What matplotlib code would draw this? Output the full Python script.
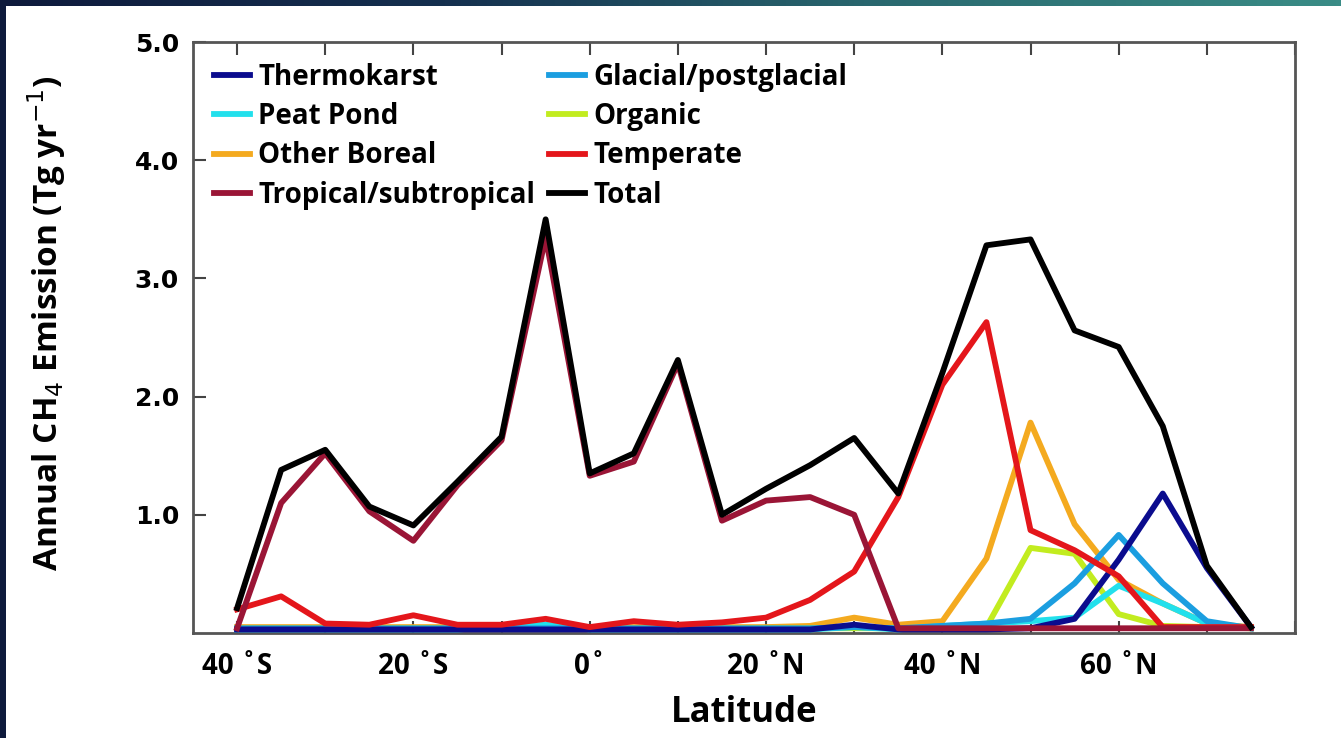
import numpy as np
import matplotlib
matplotlib.use("Agg")
import matplotlib.pyplot as plt
from matplotlib.ticker import MultipleLocator, FixedLocator
from matplotlib.colors import LinearSegmentedColormap

# latitude bins, 5 degree steps from 40S to 75N
lat = [-40, -35, -30, -25, -20, -15, -10, -5, 0, 5, 10, 15, 20, 25,
       30, 35, 40, 45, 50, 55, 60, 65, 70, 75]

total = [0.21, 1.38, 1.55, 1.07, 0.91, 1.28, 1.66, 3.50, 1.35, 1.52, 2.31, 1.00,
         1.22, 1.42, 1.65, 1.18, 2.20, 3.28, 3.33, 2.56, 2.42, 1.75, 0.57, 0.05]
tropical = [0.04, 1.10, 1.52, 1.03, 0.78, 1.25, 1.63, 3.35, 1.33, 1.45, 2.28, 0.95,
            1.12, 1.15, 1.00, 0.04, 0.04, 0.04, 0.04, 0.04, 0.04, 0.04, 0.04, 0.04]
temperate = [0.20, 0.31, 0.08, 0.07, 0.15, 0.07, 0.07, 0.12, 0.05, 0.10, 0.07, 0.09,
             0.13, 0.28, 0.52, 1.15, 2.10, 2.63, 0.87, 0.70, 0.48, 0.05, 0.05, 0.05]
other_boreal = [0.05, 0.05, 0.05, 0.05, 0.05, 0.05, 0.05, 0.05, 0.05, 0.05, 0.05, 0.05,
                0.05, 0.06, 0.13, 0.07, 0.10, 0.63, 1.78, 0.92, 0.45, 0.25, 0.08, 0.05]
organic = [0.04, 0.04, 0.04, 0.04, 0.04, 0.04, 0.04, 0.04, 0.04, 0.04, 0.04, 0.04,
           0.04, 0.04, 0.04, 0.04, 0.04, 0.05, 0.72, 0.67, 0.16, 0.06, 0.05, 0.04]
glacial = [0.04, 0.04, 0.04, 0.04, 0.04, 0.04, 0.04, 0.04, 0.04, 0.04, 0.04, 0.04,
           0.04, 0.04, 0.05, 0.04, 0.06, 0.08, 0.12, 0.42, 0.83, 0.42, 0.10, 0.04]
peat_pond = [0.03, 0.03, 0.03, 0.03, 0.03, 0.03, 0.05, 0.07, 0.03, 0.03, 0.03, 0.03,
             0.03, 0.03, 0.05, 0.03, 0.06, 0.08, 0.10, 0.13, 0.40, 0.25, 0.08, 0.04]
thermokarst = [0.03, 0.03, 0.03, 0.03, 0.03, 0.03, 0.03, 0.03, 0.03, 0.03, 0.03, 0.03,
               0.03, 0.03, 0.07, 0.03, 0.03, 0.03, 0.04, 0.12, 0.62, 1.18, 0.55, 0.05]

xtick_pos = [-40, -20, 0, 20, 40, 60]
xtick_lab = ["40 \u02daS", "20 \u02daS", "0\u02da", "20 \u02daN", "40 \u02daN", "60 \u02daN"]
ytick_pos = [1, 2, 3, 4, 5]
ytick_lab = ["1.0", "2.0", "3.0", "4.0", "5.0"]

fig = plt.figure(figsize=(13.41, 7.38), dpi=100)
fig.patch.set_facecolor("white")

# dark frame strips on the left and top edges
left = fig.add_axes([0, 0, 6 / 1341, 1])
left.set_facecolor("#0e1a3c")
left.set_xticks([]); left.set_yticks([])
for s in left.spines.values():
    s.set_visible(False)
top = fig.add_axes([0, 1 - 6 / 738, 1, 6 / 738])
grad = np.linspace(0, 1, 256).reshape(1, -1)
cm_top = LinearSegmentedColormap.from_list("edge", ["#0e1a3c", "#15304f", "#2a6a70", "#3a8c86"])
top.imshow(grad, aspect="auto", cmap=cm_top)
top.axis("off")

ax = fig.add_axes([193 / 1341, 1 - 633 / 738, (1295 - 193) / 1341, (633 - 42) / 738])

lw = 4.2
ax.plot(lat, other_boreal, color="#f4aa1f", lw=lw, label="Other Boreal", zorder=2)
ax.plot(lat, organic, color="#c2ec1f", lw=lw, label="Organic", zorder=3)
ax.plot(lat, peat_pond, color="#22e0ec", lw=lw, label="Peat Pond", zorder=4)
ax.plot(lat, glacial, color="#1b9ee0", lw=lw, label="Glacial/postglacial", zorder=5)
ax.plot(lat, thermokarst, color="#0b0c8e", lw=lw, label="Thermokarst", zorder=6)
ax.plot(lat, temperate, color="#e4161b", lw=lw, label="Temperate", zorder=7)
ax.plot(lat, tropical, color="#9a1536", lw=lw, label="Tropical/subtropical", zorder=8)
ax.plot(lat, total, color="black", lw=lw, label="Total", zorder=9)

ax.set_xlim(-45, 80)
ax.set_ylim(0, 5)

ax.xaxis.set_major_locator(FixedLocator(xtick_pos))
ax.set_xticklabels(xtick_lab)
ax.xaxis.set_minor_locator(MultipleLocator(10))
ax.yaxis.set_major_locator(FixedLocator(ytick_pos))
ax.set_yticklabels(ytick_lab)
ax.tick_params(axis="x", which="both", direction="in", top=True, bottom=True,
               length=9, width=1.5, color="#444444", pad=14)
ax.tick_params(axis="y", which="both", direction="in", left=True, right=False,
               length=9, width=1.5, color="#444444", pad=10)
for lab in ax.get_xticklabels():
    lab.set_fontfamily("Open Sans")
    lab.set_fontweight("bold")
    lab.set_fontsize(20)
for lab in ax.get_yticklabels():
    lab.set_fontfamily("DejaVu Sans")
    lab.set_fontweight("bold")
    lab.set_fontsize(18)
for s in ax.spines.values():
    s.set_color("#555555")
    s.set_linewidth(2)

ax.set_xlabel("Latitude", fontfamily="Open Sans", fontweight="bold", fontsize=25, labelpad=10)
ax.set_ylabel("Annual CH$_4$ Emission (Tg yr$^{-1}$)", fontfamily="Open Sans",
              fontweight="bold", fontsize=24)
ax.yaxis.set_label_coords(-0.113, 0.525)

handles, labels = ax.get_legend_handles_labels()
order = ["Thermokarst", "Peat Pond", "Other Boreal", "Tropical/subtropical",
         "Glacial/postglacial", "Organic", "Temperate", "Total"]
idx = [labels.index(n) for n in order]
leg = ax.legend([handles[i] for i in idx], [labels[i] for i in idx], ncol=2,
                loc="upper left", frameon=False, handlelength=1.3, handletextpad=0.3,
                columnspacing=0.5, labelspacing=0.37, borderaxespad=0.35,
                prop={"family": "Open Sans", "weight": "bold", "size": 20})

fig.savefig("out.png", dpi=100)
